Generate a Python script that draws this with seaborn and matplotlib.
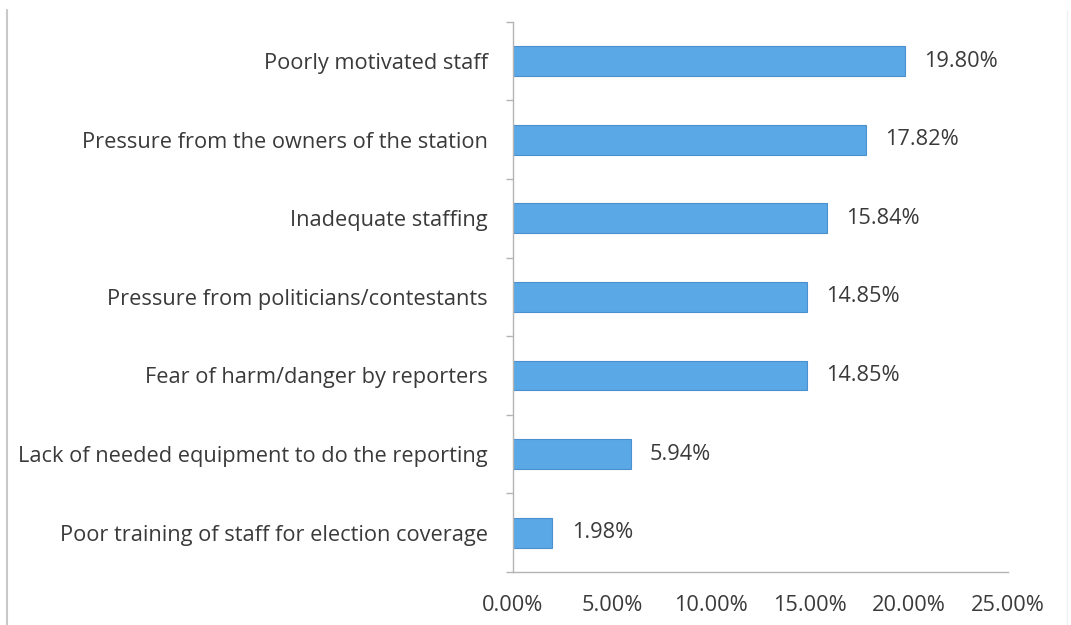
import matplotlib
matplotlib.use("Agg")
import matplotlib.pyplot as plt
from matplotlib.lines import Line2D
from matplotlib.ticker import PercentFormatter, FixedLocator
import seaborn as sns
import pandas as pd

categories = [
    "Poorly motivated staff",
    "Pressure from the owners of the station",
    "Inadequate staffing",
    "Pressure from politicians/contestants",
    "Fear of harm/danger by reporters",
    "Lack of needed equipment to do the reporting",
    "Poor training of staff for election coverage",
]
shares = [19.80, 17.82, 15.84, 14.85, 14.85, 5.94, 1.98]
x_ticks = [0, 5, 10, 15, 20, 25]

df = pd.DataFrame({"reason": categories, "share": shares})

sns.set_theme(style="white")
plt.rcParams["font.family"] = ["Open Sans", "DejaVu Sans"]

fig = plt.figure(figsize=(10.71, 6.25), dpi=100)
ax = fig.add_axes([0.479, 0.085, 0.462, 0.88])

sns.barplot(data=df, x="share", y="reason", orient="h", ax=ax,
            color="#5ba8e6", edgecolor="#4a90cf", linewidth=0.8,
            width=0.38, saturation=1)

text_col = "#3a3a3a"
axis_col = "#b4b4b4"
fs = 15.7

ax.set_xlim(0, 25)
ax.set_ylim(len(categories) - 0.5, -0.5)
ax.xaxis.set_major_locator(FixedLocator(x_ticks))
ax.xaxis.set_major_formatter(PercentFormatter(decimals=2))
ax.set_xlabel("")
ax.set_ylabel("")

for side in ["top", "right"]:
    ax.spines[side].set_visible(False)
for side in ["left", "bottom"]:
    ax.spines[side].set_color(axis_col)
    ax.spines[side].set_linewidth(1.0)

ax.tick_params(axis="x", which="major", direction="out", length=5,
               width=1, color=axis_col, labelsize=fs, labelcolor=text_col, pad=12)
ax.tick_params(axis="y", which="major", length=0, labelsize=fs,
               labelcolor=text_col, pad=18)
ax.yaxis.set_minor_locator(FixedLocator([i - 0.5 for i in range(len(categories) + 1)]))
ax.tick_params(axis="y", which="minor", direction="out", length=5,
               width=1, color=axis_col, left=True)

for i, v in enumerate(shares):
    ax.annotate(f"{v:.2f}%", xy=(v, i), xytext=(14, 0), textcoords="offset points",
                va="center", ha="left", fontsize=fs, color=text_col)

# chart frame edges
fig.add_artist(Line2D([7 / 1071, 7 / 1071], [0.0, 1 - 10 / 625],
                      transform=fig.transFigure, color="#c8c8c8", linewidth=1.5))
fig.add_artist(Line2D([1067 / 1071, 1067 / 1071], [0.0, 1 - 10 / 625],
                      transform=fig.transFigure, color="#f0f0f0", linewidth=1.0))

fig.savefig("out.png", dpi=100)
